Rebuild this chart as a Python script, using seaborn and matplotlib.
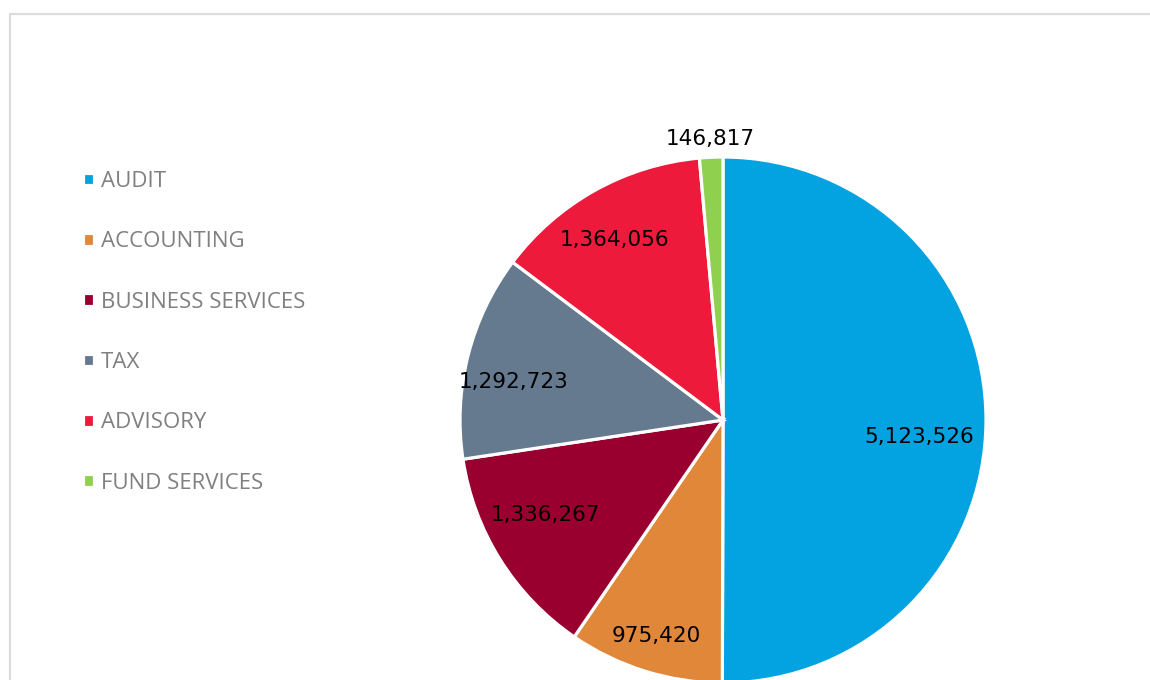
#!/usr/bin/env python
# coding: utf-8

import numpy as np
import matplotlib
matplotlib.use("Agg")
import matplotlib.pyplot as plt
import seaborn as sns
from matplotlib.patches import Rectangle

# Chart data
services = ["AUDIT", "ACCOUNTING", "BUSINESS SERVICES", "TAX", "ADVISORY", "FUND SERVICES"]
fees = [5123526, 975420, 1336267, 1292723, 1364056, 146817]
colours = ["#02A3E0", "#E0873A", "#990030", "#667A8F", "#EE1A3C", "#8FD14F"]
# label placement (fraction of radius, angle nudge in degrees), "best fit" look
label_dist = [0.75, 0.86, 0.765, 0.81, 0.80, 1.07]
label_nudge = [-5, 0, -4, 4, 2, 0]

sns.set_theme(style="white")
plt.rcParams["font.family"] = ["Open Sans", "DejaVu Sans"]

fig = plt.figure(figsize=(11.5, 6.8), dpi=100)

# light frame around the chart area
fig.patches.append(Rectangle((10 / 1150, -0.1), 1.2, 1 - 14 / 680 + 0.1,
                             transform=fig.transFigure, fill=False,
                             edgecolor="#DCDCDC", linewidth=1.6))

ax = fig.add_axes([0.4, -0.0044, 0.4574, 0.7735])
wedges, _ = ax.pie(fees, colors=colours, startangle=90, counterclock=False,
                   radius=1, wedgeprops=dict(edgecolor="white", linewidth=2.3))
ax.set_xlim(-1, 1)
ax.set_ylim(-1, 1)
ax.set_aspect("equal")
ax.axis("off")

# value labels
for w, val, d, nudge in zip(wedges, fees, label_dist, label_nudge):
    ang = np.deg2rad((w.theta1 + w.theta2) / 2 + nudge)
    ax.text(d * np.cos(ang), d * np.sin(ang), f"{val:,}", ha="center", va="center",
            fontsize=15.5, color="black", family=["DejaVu Sans"])

fig.legend(wedges, services, loc="upper left", bbox_to_anchor=(63 / 1150, 1 - 151 / 680),
           frameon=False, fontsize=16, handlelength=0.5, handleheight=0.5,
           handletextpad=0.3, labelspacing=1.77, labelcolor="#808080")

fig.savefig("out.png", dpi=100)
